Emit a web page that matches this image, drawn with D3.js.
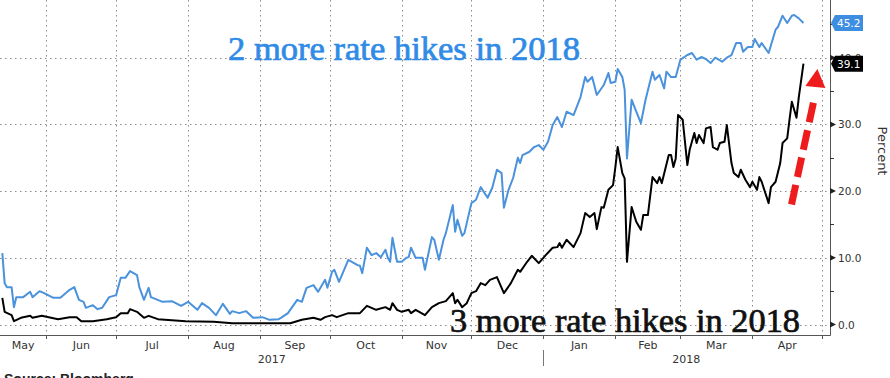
<!DOCTYPE html>
<html>
<head>
<meta charset="utf-8">
<script src="https://cdn.jsdelivr.net/npm/d3@7"></script>
<style>
  html, body { margin: 0; padding: 0; background: #fff; }
  svg { display: block; }
</style>
</head>
<body>
<svg id="chart" width="890" height="378"></svg>
<script>
// ---- Data (days since 2017-05-12, value in percent) ----
const startDate = "2017-05-12";
const endDate = "2018-05-04";

const twoHikesDays = [1,2,3,5,6,7,10,13,14,17,19,23,26,30,32,34,36,37,40,42,44,47,50,52,54,56,59,60,62,64,65,70,74,78,81,85,87,90,93,96,99,100,103,106,109,113,116,120,121,124,128,130,132,135,137,140,141,143,144,146,150,154,155,156,158,160,162,164,166,167,168,169,171,173,175,176,177,179,182,183,186,187,189,191,192,195,196,197,199,200,203,205,207,210,212,214,216,217,219,221,223,224,225,228,230,232,234,236,238,240,242,244,247,250,252,253,255,257,260,262,263,265,266,268,269,270,272,274,276,278,281,282,284,286,287,289,291,293,296,298,300,302,304,306,308,311,313,315,317,319,320,322,324,325,327,328,331,334,335,337,339,341,342,344,346];
const twoHikesValues = [10.7,6.2,5.6,5.6,2.6,4.1,4.1,4.9,4.1,5.0,4.7,4.0,4.0,5.2,5.6,3.7,3.4,2.5,2.9,2.3,2.5,4.1,4.4,7.0,7.0,8.0,7.4,5.6,3.7,5.5,4.1,3.4,3.5,2.8,3.4,2.2,3.2,2.5,1.4,3.1,1.6,2.0,1.7,2.0,1.0,1.1,0.7,0.8,1.0,1.7,3.7,3.4,5.5,5.9,4.9,6.7,5.5,7.9,8.2,6.4,9.7,8.9,8.8,7.7,11.5,10.4,10.7,10.1,11.2,10.0,9.4,13.0,9.4,9.4,10.0,10.1,11.5,10.0,10.0,8.2,13.1,12.7,9.7,12.7,13.7,17.9,13.9,15.7,13.3,13.7,18.2,18.7,20.6,19.0,20.5,23.2,22.7,17.5,20.2,22.0,25.0,24.2,25.4,25.9,26.6,26.9,26.2,27.4,29.9,31.1,29.6,31.9,31.4,34.1,37.1,36.4,37.1,34.4,35.9,37.7,36.2,36.4,38.3,37.1,35.2,24.9,33.7,31.9,30.2,33.7,37.9,36.7,37.4,35.4,37.9,37.1,37.1,39.7,40.4,40.7,39.7,40.1,39.8,39.2,40.0,39.4,40.0,40.4,42.2,42.2,40.9,41.6,41.6,42.8,41.6,42.2,40.7,44.2,44.6,46.3,45.2,46.3,46.4,45.9,45.2];

const threeHikesDays = [1,2,5,6,9,13,14,18,25,30,33,35,40,46,50,52,55,56,59,62,64,68,80,92,100,125,130,135,138,140,143,145,150,155,158,160,162,166,168,169,171,173,176,177,179,183,186,189,192,195,196,197,199,201,203,205,207,209,211,214,217,220,223,224,227,229,232,234,235,238,240,241,242,244,247,250,252,254,256,257,259,260,262,264,265,266,268,269,270,272,274,276,277,279,281,283,284,285,288,289,290,291,292,294,296,297,299,300,301,303,304,306,307,309,310,312,313,315,316,318,319,321,323,324,326,327,328,331,332,334,336,337,339,340,341,343,344,346];
const threeHikesValues = [4.0,1.9,1.4,0.5,1.0,1.3,1.0,1.3,0.8,1.1,1.1,0.5,0.5,0.8,1.1,1.7,1.7,2.3,1.9,1.0,1.3,0.8,0.5,0.4,0.2,0.2,0.7,1.0,0.7,1.1,1.4,1.1,1.7,1.7,2.8,2.5,2.2,2.6,2.2,3.2,2.2,1.9,2.2,1.7,2.2,1.4,2.6,3.2,3.5,4.7,3.2,3.7,2.6,3.2,4.7,5.0,6.2,5.9,6.7,7.1,4.7,6.2,8.2,7.9,9.4,10.3,9.2,10.0,10.4,11.5,11.6,12.2,11.5,12.7,11.6,13.7,16.7,16.1,16.7,14.3,17.6,17.5,20.2,20.9,23.6,26.6,22.7,21.9,9.4,17.6,15.4,14.2,16.4,16.4,22.1,21.2,22.1,21.2,25.4,25.4,23.6,24.9,31.4,30.7,23.9,26.2,28.7,27.2,28.4,27.2,29.4,29.6,26.6,26.2,27.2,27.4,29.9,24.2,22.7,22.1,23.2,21.7,20.6,21.4,20.2,22.1,21.4,18.2,20.6,21.4,24.2,27.2,27.9,30.7,33.4,31.0,34.1,39.1];

const yTicks = [0, 10, 20, 30, 40];
const yMinorTicks = [5, 15, 25, 35, 45];
const monthLabels = ["May","Jun","Jul","Aug","Sep","Oct","Nov","Dec","Jan","Feb","Mar","Apr"];
const yearLabels = ["2017", "2018"];
const lastValues = { two: "45.2", three: "39.1" };
const annotationTwo = "2 more rate hikes in 2018";
const annotationThree = "3 more rate hikes in 2018";
const sourceText = "Source: Bloomberg";
const axisTitle = "Percent";

// ---- Setup ----
const parse = d3.timeParse("%Y-%m-%d");
const t0 = parse(startDate), t1 = parse(endDate);
const toSeries = (days, vals) => days.map((d, i) => ({ date: d3.timeDay.offset(t0, d), value: vals[i] }));
const two = toSeries(twoHikesDays, twoHikesValues);
const three = toSeries(threeHikesDays, threeHikesValues);

const plotRight = 830, plotBottom = 335;
const x = d3.scaleTime().domain([t0, t1]).range([0, 829]);
const y = d3.scaleLinear().domain([0, 40]).range([324.5, 57.7]);

const svg = d3.select("#chart");
svg.append("rect").attr("width", 890).attr("height", 378).attr("fill", "#fff");

const axisColor = "#333";
const fontAxis = "'DejaVu Sans', Verdana, sans-serif";
const fontSerif = "'Liberation Serif', 'Times New Roman', serif";

// Month boundaries
const monthStarts = d3.timeMonth.range(d3.timeMonth.ceil(t0), t1);

// Gridlines
const grid = svg.append("g").attr("stroke", "#8a8a8a").attr("stroke-width", 1).attr("stroke-dasharray", "1.5,3.5");
grid.selectAll("line.h").data(yTicks).join("line")
  .attr("x1", 0).attr("x2", plotRight)
  .attr("y1", d => Math.round(y(d)) + 0.5).attr("y2", d => Math.round(y(d)) + 0.5);
grid.selectAll("line.v").data(monthStarts).join("line")
  .attr("x1", d => Math.round(x(d)) + 0.5).attr("x2", d => Math.round(x(d)) + 0.5)
  .attr("y1", 0).attr("y2", plotBottom);

// Lines
const line = d3.line().x(d => x(d.date)).y(d => y(d.value)).curve(d3.curveLinear);
svg.append("path").datum(two).attr("d", line)
  .attr("fill", "none").attr("stroke", "#4a92dc").attr("stroke-width", 2).attr("stroke-linejoin", "round");
svg.append("path").datum(three).attr("d", line)
  .attr("fill", "none").attr("stroke", "#000").attr("stroke-width", 2).attr("stroke-linejoin", "round");

// Frame
svg.append("line").attr("x1", 0).attr("x2", plotRight + 0.5).attr("y1", plotBottom + 0.5).attr("y2", plotBottom + 0.5)
  .attr("stroke", "#555").attr("stroke-width", 1);
svg.append("line").attr("x1", plotRight + 0.5).attr("x2", plotRight + 0.5).attr("y1", 0).attr("y2", plotBottom + 0.5)
  .attr("stroke", "#555").attr("stroke-width", 1);

// X axis ticks at month boundaries
svg.append("g").selectAll("line").data(monthStarts).join("line")
  .attr("x1", d => Math.round(x(d)) + 0.5).attr("x2", d => Math.round(x(d)) + 0.5)
  .attr("y1", plotBottom).attr("y2", plotBottom + 4)
  .attr("stroke", "#555");

// Month labels centered on visible part of each month
const monthsAll = d3.timeMonth.range(d3.timeMonth.floor(t0), t1);
svg.append("g").selectAll("text").data(monthsAll).join("text")
  .attr("x", d => (Math.max(0, x(d)) + Math.min(829, x(d3.timeMonth.offset(d, 1)))) / 2)
  .attr("y", 349)
  .attr("text-anchor", "middle")
  .attr("font-family", fontAxis).attr("font-size", 11).attr("fill", axisColor)
  .text((d, i) => monthLabels[i]);

// Year labels
const yearStart2018 = parse("2018-01-01");
const yearSpans = [[0, x(yearStart2018)], [x(yearStart2018), 829]];
svg.append("g").selectAll("text").data(yearLabels).join("text")
  .attr("x", (d, i) => (yearSpans[i][0] + yearSpans[i][1]) / 2)
  .attr("y", 363)
  .attr("text-anchor", "middle")
  .attr("font-family", fontAxis).attr("font-size", 11).attr("fill", axisColor)
  .text(d => d);
svg.append("line")
  .attr("x1", Math.round(x(yearStart2018)) + 0.5).attr("x2", Math.round(x(yearStart2018)) + 0.5)
  .attr("y1", 350).attr("y2", 366).attr("stroke", "#777");

// Right axis: major ticks (triangles), minor ticks
const ra = svg.append("g");
ra.selectAll("path").data(yTicks).join("path")
  .attr("d", d => { const yy = y(d); return `M${plotRight},${yy - 3}L${plotRight + 6},${yy}L${plotRight},${yy + 3}Z`; })
  .attr("fill", "#222");
ra.selectAll("line").data(yMinorTicks).join("line")
  .attr("x1", plotRight).attr("x2", plotRight + 4)
  .attr("y1", d => Math.round(y(d)) + 0.5).attr("y2", d => Math.round(y(d)) + 0.5)
  .attr("stroke", "#333");
ra.selectAll("text").data(yTicks).join("text")
  .attr("x", plotRight + 8).attr("y", d => y(d) + 4)
  .attr("font-family", fontAxis).attr("font-size", 10.5).attr("fill", axisColor)
  .text(d => d3.format(".1f")(d));

// Axis title
svg.append("text")
  .attr("transform", `translate(${878},${151}) rotate(90)`)
  .attr("text-anchor", "middle")
  .attr("font-family", fontAxis).attr("font-size", 13).attr("fill", axisColor)
  .text(axisTitle);

// Last-value tags
function tag(val, color) {
  const yy = y(+val);
  const g = svg.append("g");
  g.append("path")
    .attr("d", `M${plotRight + 1},${yy}L${plotRight + 5},${yy - 8}L${plotRight + 33},${yy - 8}L${plotRight + 33},${yy + 8}L${plotRight + 5},${yy + 8}Z`)
    .attr("fill", color);
  g.append("text").attr("x", plotRight + 7).attr("y", yy + 4)
    .attr("font-family", fontAxis).attr("font-size", 10.5).attr("fill", "#fff")
    .text(val);
}
tag(lastValues.two, "#3d8ee0");
tag(lastValues.three, "#000");

// Annotations
svg.append("text").attr("x", 228).attr("y", 60)
  .attr("font-family", fontSerif).attr("font-size", 33)
  .attr("fill", "#2f8be6").attr("stroke", "#2f8be6").attr("stroke-width", 0.7)
  .attr("textLength", 352).attr("lengthAdjust", "spacingAndGlyphs")
  .text(annotationTwo);
svg.append("text").attr("x", 450).attr("y", 332)
  .attr("font-family", fontSerif).attr("font-size", 33)
  .attr("fill", "#111").attr("stroke", "#111").attr("stroke-width", 0.7)
  .attr("textLength", 350).attr("lengthAdjust", "spacingAndGlyphs")
  .text(annotationThree);

// Red dashed arrow (anchored to data positions of the final black-line rise)
const arrowStart = [x(d3.timeDay.offset(t0, 340)) + 2, y(18)];
const arrowEnd = [x(d3.timeDay.offset(t0, 351)), y(34.4)];
const tip = [x(d3.timeDay.offset(t0, 352)), y(38.3)];
svg.append("line")
  .attr("x1", arrowStart[0]).attr("y1", arrowStart[1])
  .attr("x2", arrowEnd[0]).attr("y2", arrowEnd[1])
  .attr("stroke", "#ee1c1c").attr("stroke-width", 7).attr("stroke-dasharray", "20,8");
svg.append("path")
  .attr("d", `M${tip[0]},${tip[1]}L${tip[0] + 8},${tip[1] + 19}L${tip[0] - 12},${tip[1] + 17}Z`)
  .attr("fill", "#ee1c1c");

// Source
svg.append("text").attr("x", 4).attr("y", 384)
  .attr("font-family", "'Liberation Sans', Arial, sans-serif").attr("font-size", 14).attr("font-weight", "bold")
  .attr("fill", "#222")
  .text(sourceText);
</script>
</body>
</html>
